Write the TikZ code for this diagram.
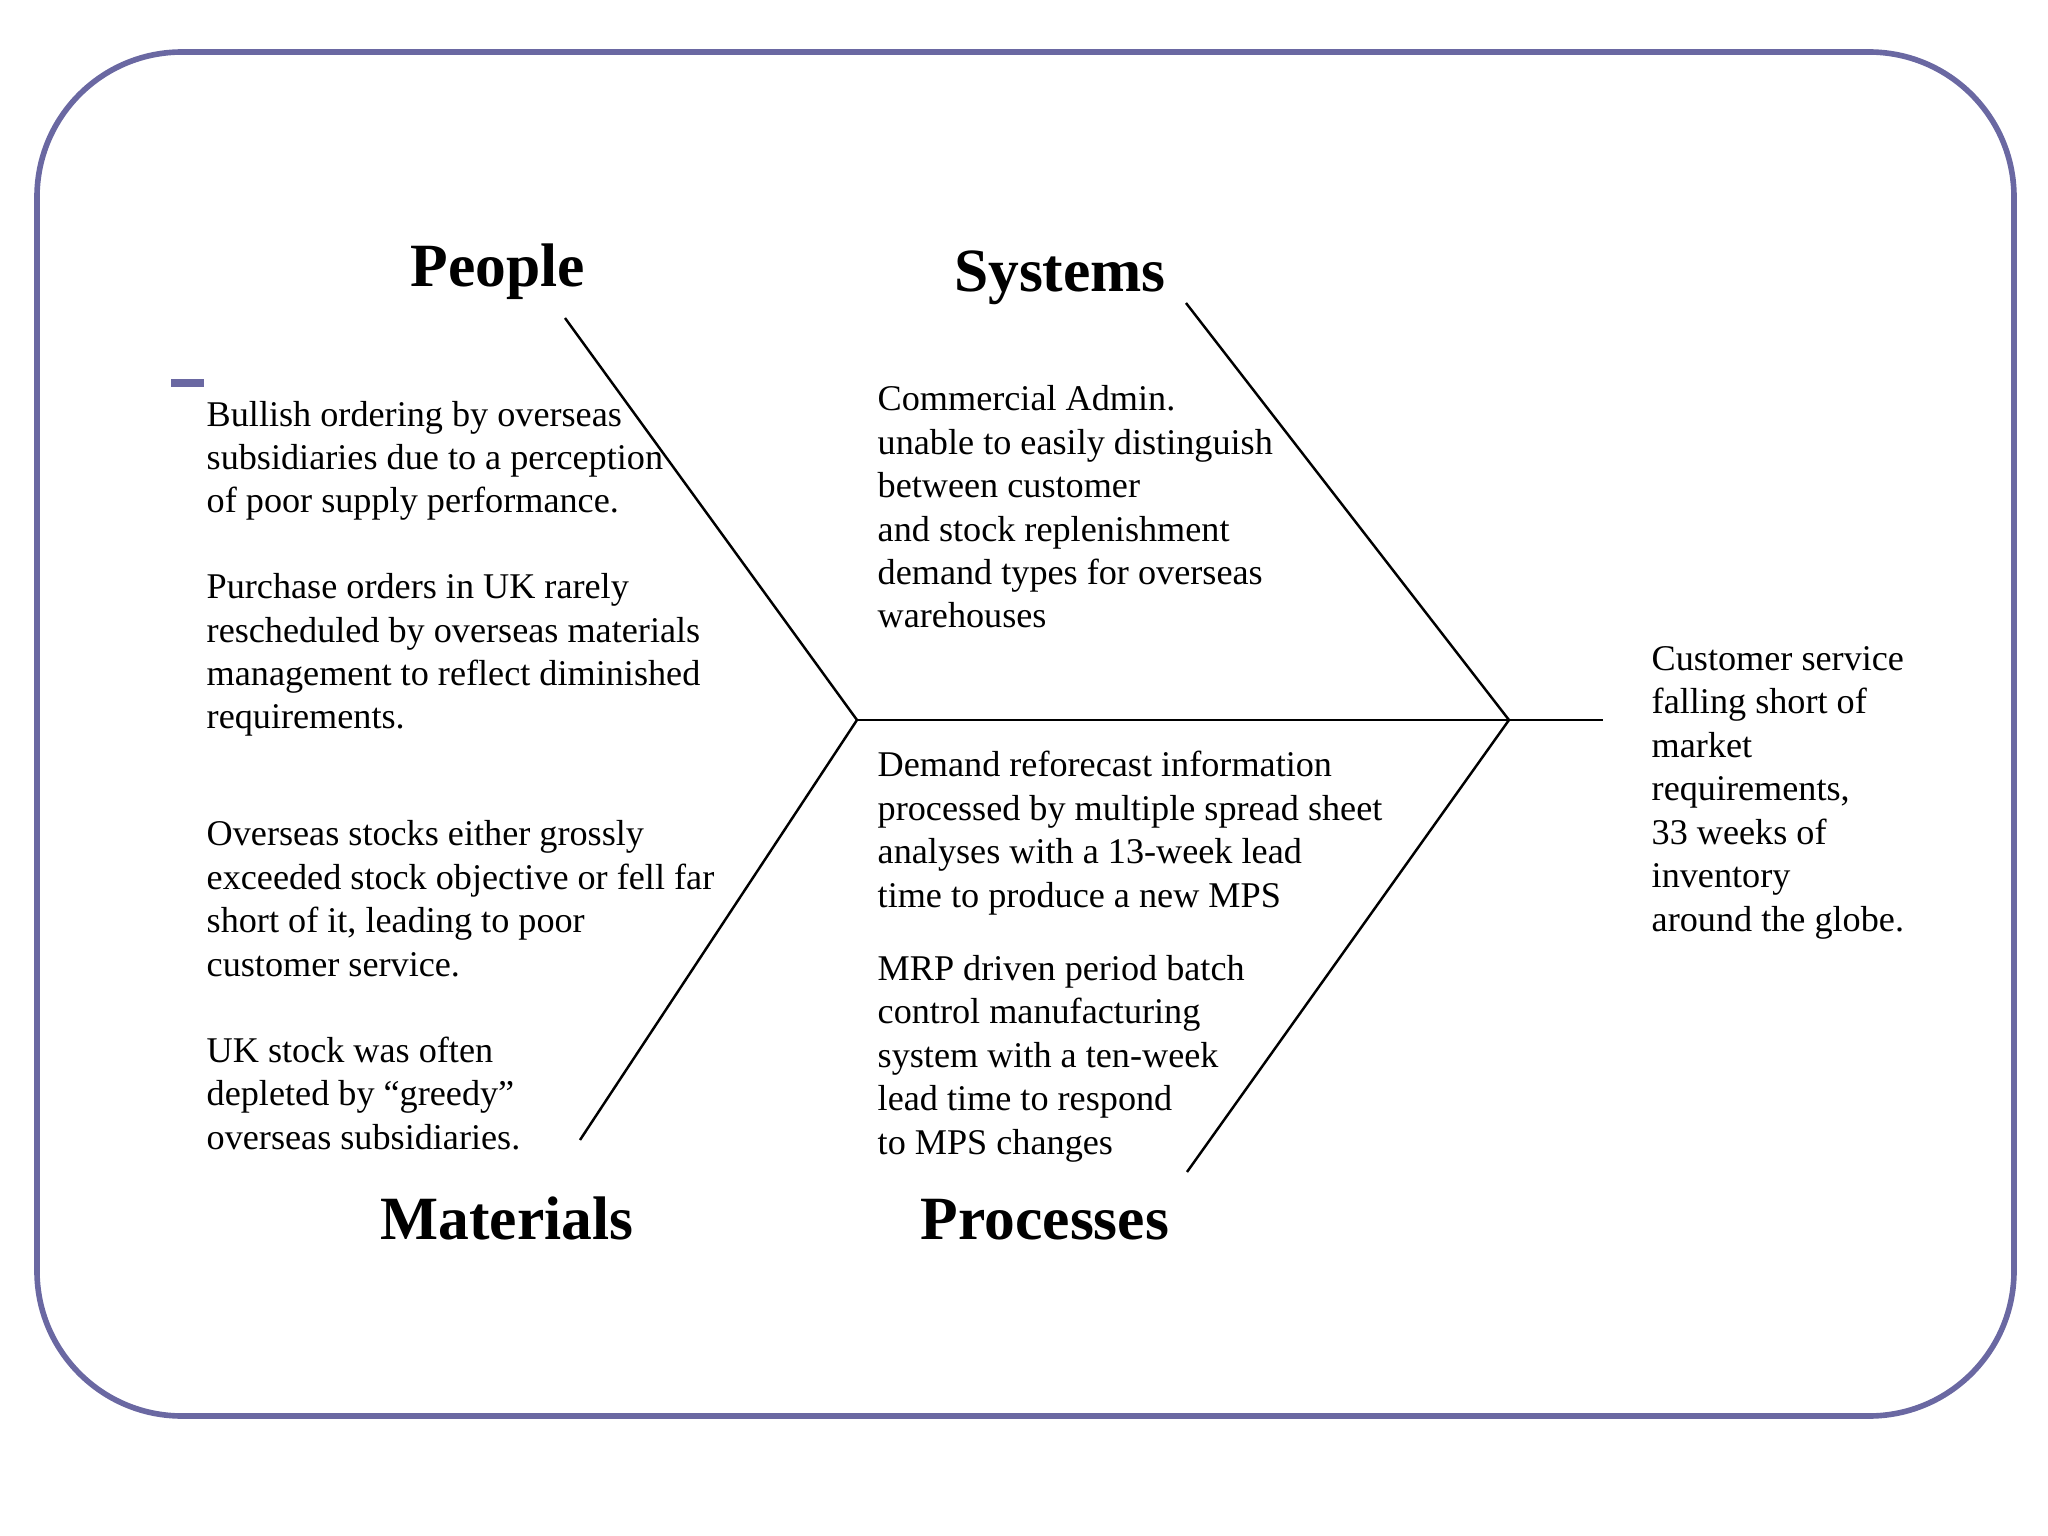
\documentclass[tikz,border=0pt]{standalone}
\usepackage{fontspec}
\setmainfont{Liberation Serif}
\definecolor{frame}{RGB}{106,104,162}

\begin{document}
\begin{tikzpicture}[
    cause/.style={anchor=base west, align=left, inner sep=0pt,
                  font=\fontsize{10.3}{12.35}\selectfont},
    head/.style={anchor=base, inner sep=0pt,
                 font=\fontsize{17.5}{21}\selectfont\bfseries},
    bone/.style={line width=0.7pt, color=black},
  ]
  \useasboundingbox (0,0) rectangle (20.48,-15.36);

  % slide frame
  \draw[frame, line width=1.6pt, rounded corners=1.45cm]
    (0.37,-0.52) rectangle (20.14,-14.16);
  \fill[frame] (1.71,-3.79) rectangle (2.04,-3.87);

  % skeleton
  \coordinate (tail) at (8.57,-7.20);
  \coordinate (head) at (15.09,-7.20);
  \coordinate (end) at (16.03,-7.20);
  \coordinate (pe) at (5.65,-3.18);
  \coordinate (sy) at (11.86,-3.03);
  \coordinate (ma) at (5.80,-11.40);
  \coordinate (pr) at (11.87,-11.72);

  \draw[bone] (tail) -- (head) -- (end);
  \draw[bone] (pe) -- (tail);
  \draw[bone] (ma) -- (tail);
  \draw[bone] (sy) -- (head);
  \draw[bone] (pr) -- (head);

  % categories
  \node[head] (people) at (4.98,-2.87) {People};
  \node[head] (systems) at (10.60,-2.92) {Systems};
  \node[head] (materials) at (5.07,-12.39) {Materials};
  \node[head] (processes) at (10.45,-12.39) {Processes};

  % causes (anchored at the baseline of the last line)
  \node[cause] (bullish) at (2.06,-5.13) {Bullish ordering by overseas\\
    subsidiaries due to a perception\\of poor supply performance.};
  \node[cause] (purchase) at (2.06,-7.29) {Purchase orders in UK rarely\\
    rescheduled by overseas materials\\management to reflect diminished\\
    requirements.};
  \node[cause] (stocks) at (2.06,-9.76) {Overseas stocks either grossly\\
    exceeded stock objective or fell far\\short of it, leading to poor\\
    customer service.};
  \node[cause] (ukstock) at (2.06,-11.49) {UK stock was often\\
    depleted by ``greedy''\\overseas subsidiaries.};
  \node[cause] (admin) at (8.77,-6.28) {Commercial Admin.\\
    unable to easily distinguish\\between customer\\
    and stock replenishment\\demand types for overseas\\warehouses};
  \node[cause] (reforecast) at (8.77,-9.07) {Demand reforecast information\\
    processed by multiple spread sheet\\analyses with a 13-week lead\\
    time to produce a new MPS};
  \node[cause] (mrp) at (8.77,-11.54) {MRP driven period batch\\
    control manufacturing\\system with a ten-week\\lead time to respond\\
    to MPS changes};

  % effect
  \node[cause] (effect) at (16.51,-9.31) {Customer service\\
    falling short of\\market\\requirements,\\33 weeks of\\inventory\\
    around the globe.};
\end{tikzpicture}
\end{document}
